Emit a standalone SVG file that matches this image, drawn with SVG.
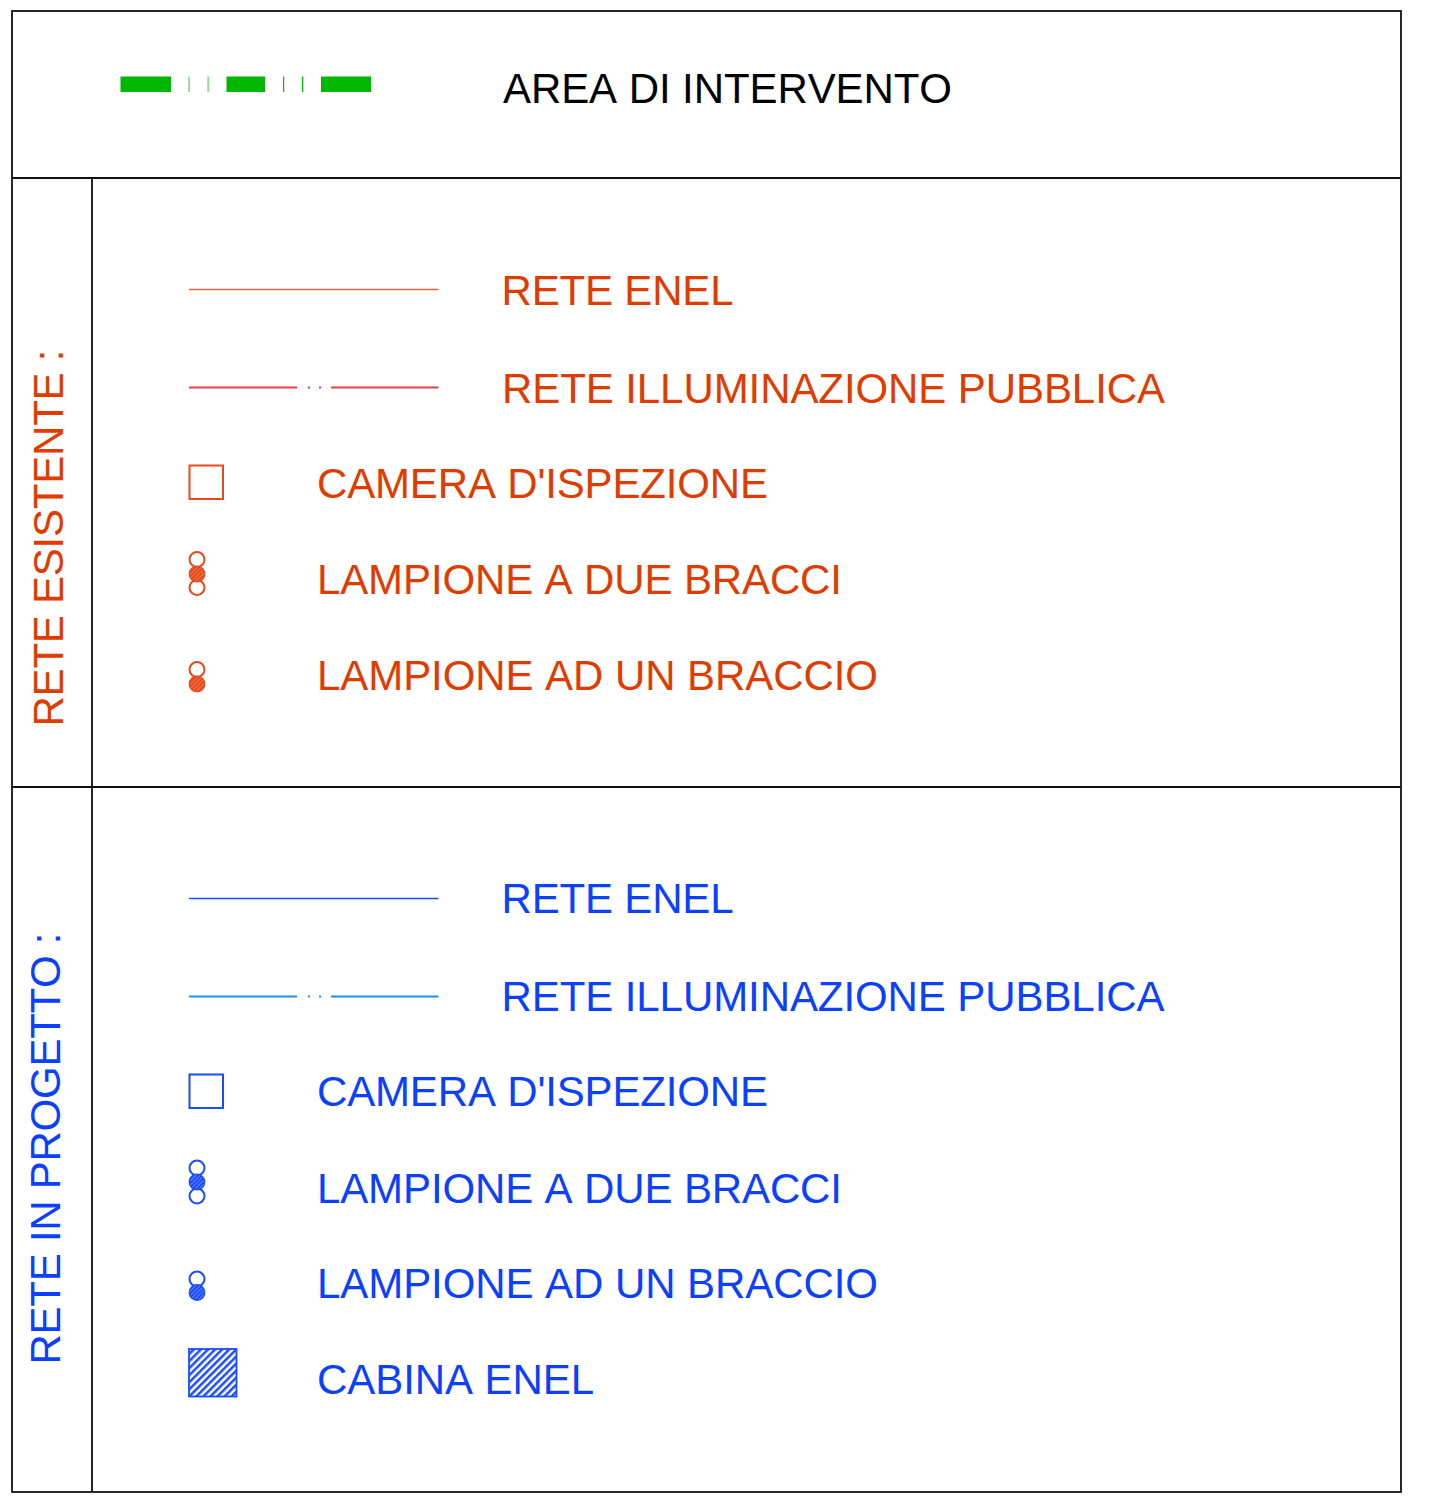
<svg xmlns="http://www.w3.org/2000/svg" width="1429" height="1500" viewBox="0 0 1429 1500">
<style>
text{font-family:"Liberation Sans",Arial,sans-serif;font-size:42px;font-kerning:none}
.r{fill:#e03c00}.b{fill:#0b40ff}.k{fill:#000}
.f{fill:none;stroke:#111;stroke-width:1.800}
.ro{fill:#fff;stroke:#e8481a;stroke-width:2}
.bo{fill:#fff;stroke:#1a4cff;stroke-width:2}
</style>
<defs>
<pattern id="hr" width="3" height="3" patternUnits="userSpaceOnUse" patternTransform="rotate(-45)"><rect width="3" height="3" fill="#e8481a"/><rect width="3" height="0.6" fill="#f59a78"/></pattern>
<pattern id="hb" width="3" height="3" patternUnits="userSpaceOnUse" patternTransform="rotate(-45)"><rect width="3" height="3" fill="#1a4cff"/><rect width="3" height="0.6" fill="#8ea8ff"/></pattern>
<pattern id="hc" width="5" height="5" patternUnits="userSpaceOnUse" patternTransform="rotate(-45)"><rect width="5" height="5" fill="#fff"/><rect width="5" height="2.500" fill="#1a4cff"/></pattern>
</defs>
<g id="frame">
<rect class="f" x="12" y="11" width="1389" height="1481"/>
<path class="f" d="M12 178H1401M12 787H1401M92 178V1492"/>
</g>
<g id="connectors">
<g id="line-area" fill="#00b800">
<rect x="120.500" y="76.500" width="50.500" height="15.500"/>
<rect x="226.500" y="76.500" width="38.500" height="15.500"/>
<rect x="321" y="76.500" width="50" height="15.500"/>
<rect x="188.500" y="76.500" width="1.200" height="15.500" opacity=".65"/>
<rect x="207.500" y="76.500" width="1.200" height="15.500" opacity=".65"/>
<rect x="283" y="76.500" width="1.200" height="15.500"/>
<rect x="302" y="76.500" width="1.200" height="15.500"/>
</g>
<path d="M189 289.500H438.500" stroke="#e8633a" stroke-width="1.700" fill="none"/>
<path d="M189 387.500H297M331 387.500H438.500M308 387.500h2M319 387.500h2" stroke="#e8404a" stroke-width="1.800" fill="none"/>
<path d="M189 898.500H438.500" stroke="#1a4cff" stroke-width="1.700" fill="none"/>
<path d="M189 996.500H297M331 996.500H438.500M308 996.500h2M319 996.500h2" stroke="#1a8cff" stroke-width="1.800" fill="none"/>
</g>
<g id="area"><text class="k" x="503" y="103" textLength="449">AREA DI INTERVENTO</text></g>
<text class="r" transform="translate(63 726.500) rotate(-90)" textLength="377">RETE ESISTENTE :</text>
<text class="b" transform="translate(60 1364.500) rotate(-90)" textLength="432">RETE IN PROGETTO :</text>
<g id="e1"><text class="r" x="501.500" y="305" textLength="232">RETE ENEL</text></g>
<g id="e2"><text class="r" x="502" y="403" textLength="663">RETE ILLUMINAZIONE PUBBLICA</text></g>
<g id="e3"><rect class="ro" x="189.500" y="465.500" width="33.500" height="33.500"/><text class="r" x="317" y="498" textLength="451">CAMERA D'ISPEZIONE</text></g>
<g id="e4"><circle class="ro" cx="197" cy="559.500" r="7.500"/><circle class="ro" cx="197" cy="587.500" r="7.500"/><circle cx="197" cy="574" r="7.800" fill="url(#hr)" stroke="#e8481a" stroke-width="1.200"/><text class="r" x="317" y="594" textLength="525">LAMPIONE A DUE BRACCI</text></g>
<g id="e5"><circle class="ro" cx="197" cy="669.500" r="7.500"/><circle cx="197" cy="684" r="7.800" fill="url(#hr)" stroke="#e8481a" stroke-width="1.200"/><text class="r" x="317" y="690" textLength="561">LAMPIONE AD UN BRACCIO</text></g>
<g id="p1"><text class="b" x="501.500" y="913" textLength="232">RETE ENEL</text></g>
<g id="p2"><text class="b" x="501.500" y="1011" textLength="663">RETE ILLUMINAZIONE PUBBLICA</text></g>
<g id="p3"><rect class="bo" x="189.500" y="1074.500" width="33.500" height="33.500"/><text class="b" x="317" y="1106" textLength="451">CAMERA D'ISPEZIONE</text></g>
<g id="p4"><circle class="bo" cx="197" cy="1168" r="7.500"/><circle class="bo" cx="197" cy="1196" r="7.500"/><circle cx="197" cy="1182" r="7.800" fill="url(#hb)" stroke="#1a4cff" stroke-width="1.200"/><text class="b" x="317" y="1203" textLength="525">LAMPIONE A DUE BRACCI</text></g>
<g id="p5"><circle class="bo" cx="197" cy="1279" r="7.500"/><circle cx="197" cy="1292.500" r="7.800" fill="url(#hb)" stroke="#1a4cff" stroke-width="1.200"/><text class="b" x="317" y="1298" textLength="561">LAMPIONE AD UN BRACCIO</text></g>
<g id="p6"><rect x="189" y="1349" width="47.500" height="47.500" fill="url(#hc)" stroke="#1a4cff" stroke-width="1.800"/><text class="b" x="317" y="1394" textLength="277">CABINA ENEL</text></g>
</svg>
